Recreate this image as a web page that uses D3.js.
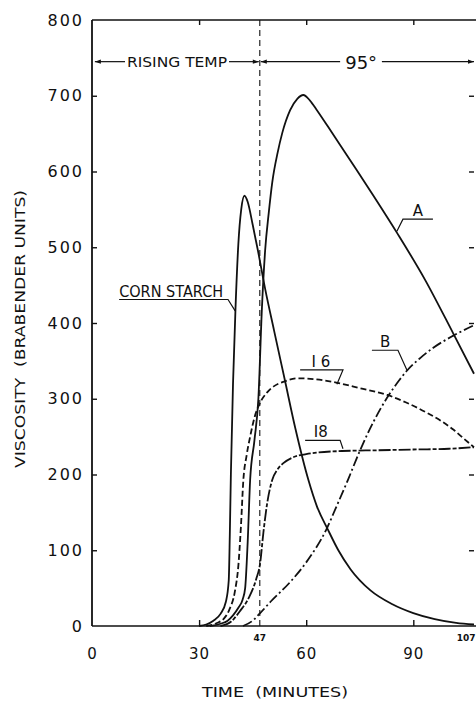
<!DOCTYPE html>
<html>
<head>
<meta charset="utf-8">
<script src="https://cdn.jsdelivr.net/npm/d3@7"></script>
<style>
  body { margin: 0; background: #fff; }
  text { font-family: "DejaVu Sans", sans-serif; fill: #111; }
</style>
</head>
<body>
<script>
// readings: time (minutes) and viscosity (brabender units)
const cornTime = [30, 32, 34, 36, 37.5, 38.3, 38.6, 38.9, 39.5, 40.2, 41, 41.8, 42.7, 43.6, 45, 46.5, 48.5, 51, 54, 57, 60.6, 63, 66, 69, 72.4, 78, 84, 90, 96, 102, 107]
const cornVisc = [0, 2, 7, 16, 32, 60, 120, 200, 320, 420, 505, 550, 568, 560, 530, 495, 445, 390, 325, 260, 193, 158, 128, 100, 75, 47, 29, 17, 9, 4, 2]

const aTime = [33, 36, 38, 39.5, 41, 42.2, 42.9, 43.6, 44.3, 45.5, 46.6, 47.6, 48.5, 49.5, 50.5, 52, 53.3, 55.5, 57.5, 59.2, 61, 63, 66, 69.5, 74, 78.7, 85.7, 93.3, 101.1, 107]
const aVisc = [0, 3, 7, 14, 24, 35, 50, 110, 193, 245, 300, 420, 496, 545, 586, 625, 651, 681, 696, 701, 694, 681, 660, 635, 603, 569, 517, 457, 387, 333]

const i6Time = [32, 35, 37, 38.5, 40, 41, 41.7, 42.4, 43.3, 44.3, 45.5, 47, 49, 50.8, 54, 57.8, 62, 68.7, 75, 82.7, 88, 94, 98, 101.3, 104, 107]
const i6Visc = [0, 4, 10, 22, 45, 80, 130, 193, 225, 250, 275, 294, 308, 316, 323, 327, 326, 321, 314, 305, 295, 281, 270, 259, 248, 236]

const i8Time = [36, 39, 41.5, 44, 46, 47.1, 48, 49, 50.5, 52, 53.6, 56, 60, 63, 70, 80, 90, 100, 107]
const i8Visc = [0, 6, 20, 38, 62, 83, 123, 160, 193, 207, 215, 222, 227, 229, 231, 232, 233, 234, 236]

const bTime = [42.3, 45, 47.1, 50, 55.5, 60, 65.8, 68.5, 71.7, 75.1, 79, 82.6, 86, 88.2, 92, 95.5, 101.1, 107]
const bVisc = [0, 7, 17, 32, 58, 84, 129, 158, 193, 232, 271, 301, 324, 337, 354, 367, 383, 397]

const yTicks = [0, 100, 200, 300, 400, 500, 600, 700, 800]
const xTicks = [0, 30, 60, 90]
const switchTime = 47
const endTime = 107

const width = 476, height = 710

const svg = d3.select('body').append('svg')
    .attr('width', width)
    .attr('height', height)

const x = d3.scaleLinear().domain([0, endTime]).range([92, 474])
const y = d3.scaleLinear().domain([0, 800]).range([626, 20])

const g = svg.append('g')

// frame: left axis, bottom, top
g.append('line').attr('x1', x(0)).attr('x2', x(0)).attr('y1', y(0)).attr('y2', y(800))
    .attr('stroke', '#111').attr('stroke-width', 1.8)
g.append('line').attr('x1', x(0)).attr('x2', width).attr('y1', y(0)).attr('y2', y(0))
    .attr('stroke', '#111').attr('stroke-width', 1.6)
g.append('line').attr('x1', x(0)).attr('x2', width).attr('y1', y(800)).attr('y2', y(800))
    .attr('stroke', '#111').attr('stroke-width', 1.4)

// left axis, ticks pointing inward
const yAxis = g.append('g')
    .attr('transform', `translate(${x(0)},0)`)
    .call(d3.axisLeft(y).tickValues(yTicks).tickSize(-5).tickPadding(10).tickFormat(d3.format('d')))
yAxis.select('.domain').remove()
yAxis.selectAll('line').attr('stroke', '#111').attr('stroke-width', 1.4)
yAxis.selectAll('text')
    .attr('font-size', 16).attr('letter-spacing', 2).attr('dx', 2)
    .style('font-family', '"DejaVu Sans", sans-serif')
yAxis.selectAll('.tick').filter(d => d === 0 || d === 800).select('line').remove()

// right side ticks
const yAxisR = g.append('g')
    .attr('transform', `translate(${x(endTime)},0)`)
    .call(d3.axisRight(y).tickValues(yTicks.slice(1, -1)).tickSize(-5).tickFormat(''))
yAxisR.select('.domain').remove()
yAxisR.selectAll('line').attr('stroke', '#111').attr('stroke-width', 1.4)

// bottom axis, ticks inward
const xAxis = g.append('g')
    .attr('transform', `translate(0,${y(0)})`)
    .call(d3.axisBottom(x).tickValues(xTicks).tickSize(-6).tickPadding(22))
xAxis.select('.domain').remove()
xAxis.selectAll('line').attr('stroke', '#111').attr('stroke-width', 1.4)
xAxis.selectAll('.tick').filter(d => d === 0).select('line').remove()
xAxis.selectAll('text')
    .attr('font-size', 15).attr('letter-spacing', 1)
    .style('font-family', '"DejaVu Sans", sans-serif')

// top ticks
const xAxisT = g.append('g')
    .attr('transform', `translate(0,${y(800)})`)
    .call(d3.axisTop(x).tickValues(xTicks.slice(1)).tickSize(-5).tickFormat(''))
xAxisT.select('.domain').remove()
xAxisT.selectAll('line').attr('stroke', '#111').attr('stroke-width', 1.4)

// small labels under the axis
g.append('text').attr('x', x(switchTime)).attr('y', y(0) + 15)
    .attr('text-anchor', 'middle').attr('font-size', 9).attr('font-weight', 'bold').text('47')
g.append('text').attr('x', width - 0.5).attr('y', y(0) + 15)
    .attr('text-anchor', 'end').attr('font-size', 9).attr('font-weight', 'bold').text('107')

// vertical dashed line at 47 min
g.append('line')
    .attr('x1', x(switchTime)).attr('x2', x(switchTime))
    .attr('y1', y(0)).attr('y2', y(800))
    .attr('stroke', '#111').attr('stroke-width', 1.1)
    .attr('stroke-dasharray', '6,4')

// axis titles
svg.append('text')
    .attr('transform', `translate(25,${(190 + 468) / 2}) rotate(-90)`)
    .attr('text-anchor', 'middle')
    .attr('font-size', 14.5)
    .attr('textLength', 278).attr('lengthAdjust', 'spacingAndGlyphs')
    .text('VISCOSITY\u00a0\u00a0(BRABENDER UNITS)')

svg.append('text')
    .attr('x', 275).attr('y', 697)
    .attr('text-anchor', 'middle')
    .attr('font-size', 14)
    .attr('textLength', 146).attr('lengthAdjust', 'spacingAndGlyphs')
    .text('TIME\u00a0\u00a0(MINUTES)')

// curves
const line = d3.line()
    .x(d => x(d[0]))
    .y(d => y(d[1]))
    .curve(d3.curveMonotoneX)

const series = [
    { t: cornTime, v: cornVisc, dash: null },
    { t: aTime, v: aVisc, dash: null },
    { t: i6Time, v: i6Visc, dash: '6,3' },
    { t: i8Time, v: i8Visc, dash: '12,2,4,2' },
    { t: bTime, v: bVisc, dash: '10,3,2,3' }
]

g.selectAll('.curve')
    .data(series)
    .enter()
    .append('path')
        .attr('class', 'curve')
        .attr('fill', 'none')
        .attr('stroke', '#111')
        .attr('stroke-width', 1.8)
        .attr('stroke-dasharray', d => d.dash)
        .attr('d', d => line(d.t.map((t, i) => [t, d.v[i]])))

// curve labels with underline and leader
const labels = [
    { text: 'CORN STARCH', tx: 7.6, ty: 434, len: 104, u0: 7.6, u1: 38.1, uy: 431, px: 40.1, py: 416 },
    { text: 'A', tx: 91.3, ty: 541, len: 0, u0: 95.5, u1: 87.1, uy: 537, px: 85.4, py: 521 },
    { text: 'B', tx: 82.1, ty: 368, len: 0, u0: 78.4, u1: 85.7, uy: 364, px: 88.2, py: 338 },
    { text: 'I 6', tx: 64.1, ty: 342, len: 0, u0: 58.3, u1: 70.3, uy: 338, px: 68.6, py: 319 },
    { text: 'I8', tx: 64.1, ty: 250, len: 0, u0: 59.7, u1: 69.5, uy: 245, px: 70.3, py: 234 }
]

labels.forEach(function(l) {
    const t = g.append('text')
        .attr('x', x(l.tx)).attr('y', y(l.ty))
        .attr('font-size', 15)
        .attr('text-anchor', l.len ? 'start' : 'middle')
        .text(l.text)
    if (l.len) t.attr('textLength', l.len).attr('lengthAdjust', 'spacingAndGlyphs')
    g.append('path')
        .attr('fill', 'none').attr('stroke', '#111').attr('stroke-width', 1.2)
        .attr('d', d3.line()([[x(l.u0), y(l.uy)], [x(l.u1), y(l.uy)], [x(l.px), y(l.py)]]))
})

// temperature range arrows
function arrowHead(px, py, dir) {
    g.append('path')
        .attr('fill', '#111')
        .attr('d', `M${px},${py} l${-dir * 6},-2.2 l0,4.4 Z`)
}

const tempY = y(745)
g.append('line').attr('x1', x(0.8)).attr('x2', 125).attr('y1', tempY).attr('y2', tempY)
    .attr('stroke', '#111').attr('stroke-width', 1.2)
g.append('line').attr('x1', 229).attr('x2', x(switchTime) - 1).attr('y1', tempY).attr('y2', tempY)
    .attr('stroke', '#111').attr('stroke-width', 1.2)
arrowHead(x(0.8), tempY, -1)
arrowHead(x(switchTime) - 1, tempY, 1)
g.append('text').attr('x', 177).attr('y', tempY + 5)
    .attr('text-anchor', 'middle').attr('font-size', 13.5)
    .attr('textLength', 100).attr('lengthAdjust', 'spacingAndGlyphs')
    .text('RISING TEMP')

g.append('line').attr('x1', x(switchTime) + 1).attr('x2', x(69.5)).attr('y1', tempY).attr('y2', tempY)
    .attr('stroke', '#111').attr('stroke-width', 1.2)
g.append('line').attr('x1', x(81.2)).attr('x2', x(endTime)).attr('y1', tempY).attr('y2', tempY)
    .attr('stroke', '#111').attr('stroke-width', 1.2)
arrowHead(x(switchTime) + 1, tempY, -1)
arrowHead(x(endTime), tempY, 1)
g.append('text').attr('x', x(75.4)).attr('y', tempY + 7)
    .attr('text-anchor', 'middle').attr('font-size', 18)
    .text('95°')
</script>
</body>
</html>
